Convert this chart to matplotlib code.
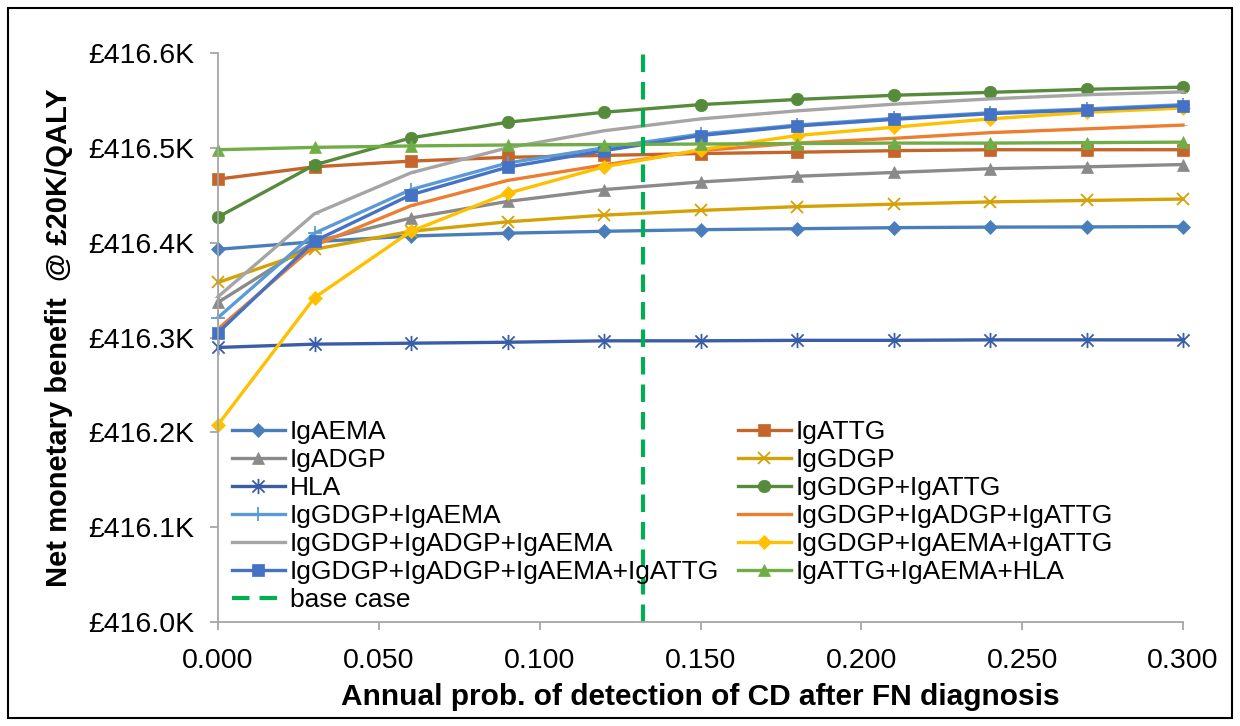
import matplotlib
matplotlib.use('Agg')
from matplotlib import pyplot as plt
from matplotlib.patches import Rectangle
from matplotlib.path import Path
from matplotlib.ticker import FuncFormatter, MultipleLocator

plt.rcParams['font.family'] = ['Liberation Sans', 'DejaVu Sans']

# annual probability of detection of CD after a false-negative diagnosis
prob = [0.00, 0.03, 0.06, 0.09, 0.12, 0.15, 0.18, 0.21, 0.24, 0.27, 0.30]
base_case = 0.132

# net monetary benefit @ £20K/QALY, in £K
igaema = [416.393, 416.401, 416.407, 416.410, 416.412, 416.4137, 416.4147, 416.4158, 416.4164, 416.4166, 416.417]
igattg = [416.467, 416.480, 416.486, 416.490, 416.492, 416.494, 416.4954, 416.497, 416.498, 416.498, 416.498]
igadgp = [416.337, 416.401, 416.426, 416.4435, 416.456, 416.464, 416.470, 416.474, 416.478, 416.480, 416.4824]
iggdgp = [416.358, 416.393, 416.412, 416.422, 416.429, 416.434, 416.438, 416.4406, 416.443, 416.4445, 416.446]
hla = [416.2895, 416.293, 416.294, 416.295, 416.2965, 416.2965, 416.297, 416.297, 416.2975, 416.2975, 416.2975]
gdgp_attg = [416.427, 416.482, 416.5105, 416.527, 416.5375, 416.5456, 416.551, 416.5554, 416.5585, 416.5617, 416.564]
gdgp_aema = [416.321, 416.410, 416.456, 416.484, 416.500, 416.5145, 416.524, 416.531, 416.537, 416.541, 416.5455]
gdgp_adgp_attg = [416.309, 416.397, 416.439, 416.4656, 416.482, 416.497, 416.505, 416.510, 416.516, 416.520, 416.524]
gdgp_adgp_aema = [416.343, 416.4305, 416.4737, 416.500, 416.518, 416.5305, 416.539, 416.546, 416.5516, 416.556, 416.559]
gdgp_aema_attg = [416.208, 416.342, 416.412, 416.452, 416.480, 416.498, 416.513, 416.5217, 416.5305, 416.5375, 416.542]
gdgp_adgp_aema_attg = [416.305, 416.4017, 416.4505, 416.4796, 416.497, 416.513, 416.523, 416.530, 416.536, 416.540, 416.5445]
attg_aema_hla = [416.498, 416.5005, 416.502, 416.503, 416.5035, 416.504, 416.5045, 416.505, 416.505, 416.5055, 416.506]

# excel style star marker: an x with a vertical bar
star = Path([(-1, -1), (1, 1), (-1, 1), (1, -1), (0, -1.25), (0, 1.25)],
            [Path.MOVETO, Path.LINETO, Path.MOVETO, Path.LINETO, Path.MOVETO, Path.LINETO])

series = [
    ('IgAEMA', igaema, '#4A7EBB', 'D', 7),
    ('IgATTG', igattg, '#C5652B', 's', 9),
    ('IgADGP', igadgp, '#8A8A8A', '^', 9),
    ('IgGDGP', iggdgp, '#D4A106', 'x', 9),
    ('HLA', hla, '#3A5DA8', star, 11),
    ('IgGDGP+IgATTG', gdgp_attg, '#558B3A', 'o', 9),
    ('IgGDGP+IgAEMA', gdgp_aema, '#5B9BD5', '+', 10),
    ('IgGDGP+IgADGP+IgATTG', gdgp_adgp_attg, '#ED7D31', '_', 6),
    ('IgGDGP+IgADGP+IgAEMA', gdgp_adgp_aema, '#A5A5A5', '_', 6),
    ('IgGDGP+IgAEMA+IgATTG', gdgp_aema_attg, '#FFC000', 'D', 7),
    ('IgGDGP+IgADGP+IgAEMA+IgATTG', gdgp_adgp_aema_attg, '#4472C4', 's', 9),
    ('IgATTG+IgAEMA+HLA', attg_aema_hla, '#70AD47', '^', 9),
]

fig = plt.figure(figsize=(12.4, 7.26), dpi=100)
ax = fig.add_axes([218/1240, 1-622/726, 965/1240, 569/726])

handles = []
for name, vals, col, mk, ms in series:
    thin = isinstance(mk, Path) or mk in ('x', '+')
    h, = ax.plot(prob, vals, color=col, lw=2.4, marker=mk, markersize=ms,
                 markeredgewidth=1.3 if thin else 0.5, label=name, clip_on=False)
    handles.append(h)

hb = ax.axvline(base_case, color='#00B050', lw=3, ls=(0, (4.2, 2.4)), label='base case')
handles.append(hb)

ax.set_xlim(0, 0.3)
ax.set_ylim(416.0, 416.6)
ax.xaxis.set_major_locator(MultipleLocator(0.05))
ax.yaxis.set_major_locator(MultipleLocator(0.1))
ax.xaxis.set_major_formatter(FuncFormatter(lambda v, p: f'{v:.3f}'))
ax.yaxis.set_major_formatter(FuncFormatter(lambda v, p: f'£{v:.1f}K'))
for s in ['top', 'right']:
    ax.spines[s].set_visible(False)
for s in ['left', 'bottom']:
    ax.spines[s].set_color('#A6A6A6')
    ax.spines[s].set_linewidth(1.3)
ax.tick_params(axis='both', colors='#A6A6A6', labelcolor='black', labelsize=20.5, length=6, width=1.3)
ax.tick_params(axis='x', pad=13)
ax.tick_params(axis='y', pad=11)

ax.set_xlabel('Annual prob. of detection of CD after FN diagnosis', fontsize=21.5, fontweight='bold', labelpad=6)
ax.set_ylabel('Net monetary benefit  @ £20K/QALY', fontsize=21, fontweight='bold', labelpad=11)

order = [0, 2, 4, 6, 8, 10, 12, 1, 3, 5, 7, 9, 11]
ax.legend([handles[i] for i in order], [handles[i].get_label() for i in order],
          ncol=2, loc='upper left', bbox_to_anchor=(232/1240, 1-420/726),
          bbox_transform=fig.transFigure, frameon=False, fontsize=19,
          handlelength=2.0, handletextpad=0.2, columnspacing=0.7,
          labelspacing=0.15, borderpad=0, borderaxespad=0)

fig.patches.append(Rectangle((8/1240, 8/726), 1224/1240, 710/726, transform=fig.transFigure,
                             fill=False, edgecolor='black', lw=1.5))

fig.savefig('out.png', dpi=100)
